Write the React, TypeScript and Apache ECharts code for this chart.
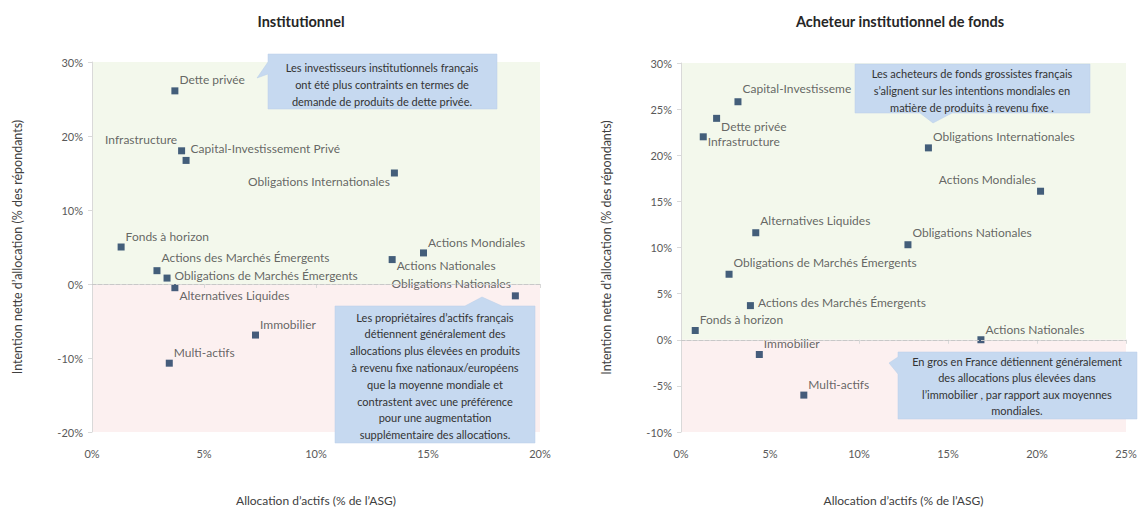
import React, { useEffect, useRef } from "react";
import * as echarts from "echarts";

// ---- Data: Institutionnel ----
const instNames = [
  "Dette privée",
  "Infrastructure",
  "Capital-Investissement Privé",
  "Obligations Internationales",
  "Fonds à horizon",
  "Actions des Marchés Émergents",
  "Obligations de Marchés Émergents",
  "Alternatives Liquides",
  "Immobilier",
  "Multi-actifs",
  "Actions Mondiales",
  "Actions Nationales",
  "Obligations Nationales",
];
const instAlloc = [3.7, 4.0, 4.2, 13.5, 1.3, 2.9, 3.35, 3.7, 7.3, 3.45, 14.8, 13.4, 18.9];
const instIntent = [26.1, 18.0, 16.7, 15.0, 5.0, 1.8, 0.8, -0.5, -6.9, -10.7, 4.2, 3.3, -1.6];

// ---- Data: Acheteur institutionnel de fonds ----
const fundNames = [
  "Capital-Investissement Privé",
  "Dette privée",
  "Infrastructure",
  "Alternatives Liquides",
  "Obligations de Marchés Émergents",
  "Actions des Marchés Émergents",
  "Fonds à horizon",
  "Immobilier",
  "Multi-actifs",
  "Obligations Internationales",
  "Actions Mondiales",
  "Obligations Nationales",
  "Actions Nationales",
];
const fundAlloc = [3.2, 2.0, 1.25, 4.2, 2.7, 3.9, 0.8, 4.4, 6.9, 13.9, 20.2, 12.75, 16.85];
const fundIntent = [25.8, 24.0, 22.0, 11.6, 7.1, 3.7, 1.0, -1.6, -6.0, 20.8, 16.1, 10.3, 0.0];

// ---- Tick labels / axis ranges ----
const instXTicks = [0, 5, 10, 15, 20];
const instYTicks = [-20, -10, 0, 10, 20, 30];
const fundXTicks = [0, 5, 10, 15, 20, 25];
const fundYTicks = [-10, -5, 0, 5, 10, 15, 20, 25, 30];

// ---- Label placement (position, dx, dy) ----
const instLabelLayout: [string, number, number][] = [
  ["right", 0, -11],
  ["left", 0, -11],
  ["right", 0, -12],
  ["left", 0, 8],
  ["right", 0, -11],
  ["right", 0, -13],
  ["right", 3, -3],
  ["right", 0, 8],
  ["right", 0, -11],
  ["right", 0, -11],
  ["right", 0, -10],
  ["right", 0, 6],
  ["left", 0, -12],
];
const fundLabelLayout: [string, number, number][] = [
  ["right", 0, -13],
  ["right", 0, 8],
  ["right", 0, 5],
  ["right", 0, -12],
  ["right", 0, -12],
  ["right", 3, -3],
  ["right", 0, -11],
  ["right", 0, -11],
  ["right", 0, -11],
  ["right", 0, -11],
  ["left", 0, -12],
  ["right", 0, -12],
  ["right", 0, -10],
];

const note1 = [
  "Les investisseurs institutionnels français",
  "ont été plus contraints en termes de",
  "demande de produits de dette privée.",
];
const note2 = [
  "Les propriétaires d’actifs français",
  "détiennent généralement des",
  "allocations plus élevées en produits",
  "à revenu fixe nationaux/européens",
  "que la moyenne mondiale et",
  "contrastent avec une préférence",
  "pour une augmentation",
  "supplémentaire des allocations.",
];
const note3 = [
  "Les acheteurs de fonds grossistes français",
  "s’alignent sur les intentions mondiales en",
  "matière de produits à revenu fixe .",
];
const note4 = [
  "En gros en France détiennent généralement",
  "des allocations plus élevées dans",
  "l’immobilier , par rapport aux moyennes",
  "mondiales.",
];

const FONT = "Lato, 'Open Sans', sans-serif";
const MARK = "#17375e";
const BOX = "#c6d9f0";
const GREEN = "#f3f8ec";
const PINK = "#fcf0f0";
const AXIS = "#d9d9d9";

function buildData(
  names: string[],
  xs: number[],
  ys: number[],
  layout: [string, number, number][],
  clip?: { index: number; width: number }
) {
  return names.map((n, i) => {
    const label: any = { position: layout[i][0], distance: 1, offset: [layout[i][1], layout[i][2]] };
    if (clip && clip.index === i) {
      label.width = clip.width;
      label.overflow = "truncate";
      label.ellipsis = "";
    }
    return { name: n, value: [xs[i], ys[i]], label };
  });
}

function noteGraphic(points: number[][], lines: string[], cx: number, y0: number, step: number) {
  const children: any[] = [
    { type: "polygon", z: 100, shape: { points }, style: { fill: BOX, stroke: "#b9cfe9", lineWidth: 0.5 } },
  ];
  lines.forEach((t, i) => {
    children.push({
      type: "text",
      z: 101,
      style: {
        text: t,
        x: cx,
        y: y0 + i * step,
        align: "center",
        verticalAlign: "middle",
        fill: "#333333",
        font: `11px ${FONT}`,
      },
    });
  });
  return { type: "group", z: 100, children };
}

function axisX(idx: number, max: number) {
  return {
    type: "value",
    gridIndex: idx,
    min: 0,
    max,
    interval: 5,
    name: "Allocation d’actifs (% de l’ASG)",
    nameLocation: "middle",
    nameGap: 62,
    nameTextStyle: { color: "#404040", fontSize: 12, fontFamily: FONT },
    axisLine: { show: true, lineStyle: { color: AXIS } },
    axisTick: { show: true, length: 4, lineStyle: { color: AXIS } },
    axisLabel: { color: "#595959", fontSize: 11, fontFamily: FONT, margin: 16, formatter: "{value}%" },
    splitLine: { show: false },
  };
}

function axisY(idx: number, min: number, max: number, interval: number) {
  return {
    type: "value",
    gridIndex: idx,
    min,
    max,
    interval,
    name: "Intention nette d’allocation (% des répondants)",
    nameLocation: "middle",
    nameGap: 68,
    nameTextStyle: { color: "#404040", fontSize: 12.5, fontFamily: FONT },
    axisLine: { show: true, lineStyle: { color: AXIS } },
    axisTick: { show: true, length: 4, lineStyle: { color: AXIS } },
    axisLabel: { color: "#595959", fontSize: 11, fontFamily: FONT, margin: 9, formatter: "{value}%" },
    splitLine: { show: false },
  };
}

function scatter(idx: number, data: any[], ymin: number, ymax: number) {
  return {
    type: "scatter",
    xAxisIndex: idx,
    yAxisIndex: idx,
    symbol: "rect",
    symbolSize: 7,
    itemStyle: { color: MARK },
    data,
    label: {
      show: true,
      formatter: "{b}",
      color: "#404040",
      fontSize: 12,
      fontFamily: FONT,
    },
    markArea: {
      silent: true,
      z: -1,
      data: [
        [{ yAxis: 0, itemStyle: { color: GREEN } }, { yAxis: ymax }],
        [{ yAxis: ymin, itemStyle: { color: PINK } }, { yAxis: 0 }],
      ],
    },
    markLine: {
      silent: true,
      symbol: "none",
      label: { show: false },
      lineStyle: { color: "#c8c8c8", type: "dashed", width: 1 },
      data: [{ yAxis: 0 }],
    },
  };
}

export default function App() {
  const ref = useRef<HTMLDivElement>(null);
  useEffect(() => {
    document.body.style.margin = "0";
    const chart = echarts.init(ref.current!, undefined, { renderer: "svg" });
    const instData = buildData(instNames, instAlloc, instIntent, instLabelLayout);
    const fundData = buildData(fundNames, fundAlloc, fundIntent, fundLabelLayout, { index: 0, width: 112 });
    chart.setOption({
      animation: false,
      backgroundColor: "#ffffff",
      textStyle: { fontFamily: FONT },
      title: [
        {
          text: "Institutionnel",
          left: 296,
          top: 9,
          textAlign: "center",
          textStyle: { fontSize: 14.5, fontWeight: "bold", color: "#262626", fontFamily: FONT },
        },
        {
          text: "Acheteur institutionnel de fonds",
          left: 895,
          top: 9,
          textAlign: "center",
          textStyle: { fontSize: 14.5, fontWeight: "bold", color: "#262626", fontFamily: FONT },
        },
      ],
      grid: [
        { left: 92, width: 448, top: 62, height: 370, outerBoundsMode: "none", containLabel: false },
        { left: 681, width: 445, top: 63, height: 369, outerBoundsMode: "none", containLabel: false },
      ],
      xAxis: [axisX(0, instXTicks[instXTicks.length - 1]), axisX(1, fundXTicks[fundXTicks.length - 1])],
      yAxis: [
        axisY(0, instYTicks[0], instYTicks[instYTicks.length - 1], 10),
        axisY(1, fundYTicks[0], fundYTicks[fundYTicks.length - 1], 5),
      ],
      series: [scatter(0, instData, -20, 30), scatter(1, fundData, -10, 30)],
      graphic: [
        noteGraphic(
          [[268, 54], [497, 54], [497, 109], [268, 109], [268, 74], [257, 78], [268, 62]],
          note1, 382, 67, 17
        ),
        noteGraphic(
          [[335, 306], [465, 306], [482, 297], [502, 306], [535, 306], [535, 443], [335, 443]],
          note2, 435, 317, 16.8
        ),
        noteGraphic(
          [[855, 64], [1090, 64], [1090, 113], [952, 113], [933, 123], [920, 113], [855, 113]],
          note3, 972, 73, 17
        ),
        noteGraphic(
          [[898, 352], [1137, 352], [1137, 419], [898, 419], [898, 374], [889, 363], [898, 357]],
          note4, 1017, 361, 16.5
        ),
      ],
    });
    return () => chart.dispose();
  }, []);
  return <div ref={ref} style={{ width: 1138, height: 507 }} />;
}
